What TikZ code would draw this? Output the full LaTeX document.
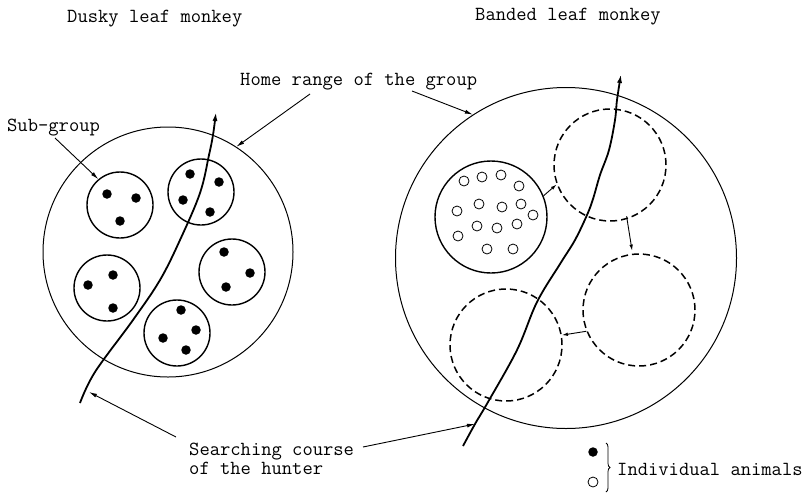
\documentclass[tikz,border=0pt]{standalone}
\usetikzlibrary{arrows.meta,decorations.pathreplacing}
\begin{document}
\begin{tikzpicture}[x=1pt,y=-1pt,
  lbl/.style={font=\ttfamily\fontsize{20}{19}\selectfont, inner sep=0pt, anchor=base west, align=left},
  range/.style={circle, draw, line width=1pt, inner sep=0pt, minimum size=#1},
  subgrp/.style={circle, draw, line width=1.4pt, inner sep=0pt, minimum size=66pt},
  bigsub/.style={circle, draw, line width=1.4pt, inner sep=0pt, minimum size=112pt},
  dsub/.style={circle, draw, line width=1.5pt, dash pattern=on 7pt off 4pt, inner sep=0pt, minimum size=112pt},
  dot/.style={circle, fill, inner sep=0pt, minimum size=9.5pt},
  odot/.style={circle, draw, line width=0.8pt, inner sep=0pt, minimum size=10pt},
  ptr/.style={line width=0.9pt, -{Latex[length=8pt,width=4pt]}},
  sptr/.style={line width=0.9pt, -{Latex[length=6pt,width=3.5pt]}},
  course/.style={line width=1.8pt, -{Latex[length=9pt,width=5pt]}}]
\useasboundingbox (0,0) rectangle (808,493);

% titles
\node[lbl] (t1) at (67,22) {Dusky leaf monkey};
\node[lbl] (t2) at (475,20) {Banded leaf monkey};
\node[lbl] (home) at (240,85) {Home range of the group};
\node[lbl] (sub) at (7,131) {Sub-group};
\node[lbl] (search) at (189,455) {Searching course};
\node[lbl] (search2) at (189,474) {of the hunter};
\node[lbl] (indiv) at (617,475) {Individual animals};

% ---------- left: dusky leaf monkey ----------
\node[range=250pt] (L) at (168,252) {};
\node[subgrp] (s1) at (120,205) {};
\node[subgrp] (s2) at (201,192) {};
\node[subgrp] (s3) at (107,288) {};
\node[subgrp] (s4) at (232,272) {};
\node[subgrp] (s5) at (177,333) {};
\foreach \p [count=\i] in {(107,194),(136,198),(120,221),
  (190,174),(219,182),(183,200),(210,212),
  (88,285),(113,275),(113,308),
  (224,252),(250,273),(226,287),
  (181,310),(196,330),(163,338),(186,350)}
  \node[dot] (d\i) at \p {};

% ---------- right: banded leaf monkey ----------
\node[range=341pt] (R) at (566,258) {};
\node[bigsub] (g) at (491,217) {};
\node[dsub] (g1) at (610,165) {};
\node[dsub] (g2) at (639,310) {};
\node[dsub] (g3) at (506,345) {};
\foreach \p [count=\i] in {(464,181),(482,177),(501,175),(519,186),
  (457,211),(479,204),(502,207),(521,204),(533,215),
  (477,226),(497,228),(517,224),(458,236),(487,249),(513,249)}
  \node[odot] (o\i) at \p {};

% movement arrows between sub-group positions
\draw[sptr] (g.22) -- (g1.200);
\draw[sptr] ([yshift=3pt]g1.287) -- ([yshift=3pt]g2.97);
\draw[sptr] (g2.202) -- (g3.10);

% hunter courses
\draw[course] plot[smooth, tension=0.6] coordinates {(80,403) (95,372) (133,320) (160,280) (180,240) (200,193) (209,155) (213,135) (216,112)};
\coordinate (hl) at (89,392);
\draw[course] plot[smooth, tension=0.6] coordinates {(463,446) (475,424) (488,402) (517,350) (537,302) (560,264) (575,240) (587,215) (593,199) (600,175) (609,150) (615,120) (617,100) (621,74)};
\coordinate (hr) at (475,424);

% label pointers
\coordinate (sub0) at (55,138);
\draw[ptr] (sub0) -- (s1.130);
\coordinate (home1) at (310,94);
\coordinate (home2) at (412,91);
\draw[ptr] (home1) -- (L.57);
\draw[ptr] (home2) -- (R.123);
\coordinate (sc1) at (176,437);
\coordinate (sc2) at (363,447);
\draw[ptr] (sc1) -- (hl);
\draw[ptr] (sc2) -- (hr);

% legend
\node[dot] (lf) at (593,452) {};
\node[odot] (lo) at (593,482) {};
\draw[line width=0.8pt, decorate, decoration={brace, amplitude=4pt}] (606,443) coordinate (br1) -- (606,492) coordinate (br2);
\end{tikzpicture}
\end{document}
